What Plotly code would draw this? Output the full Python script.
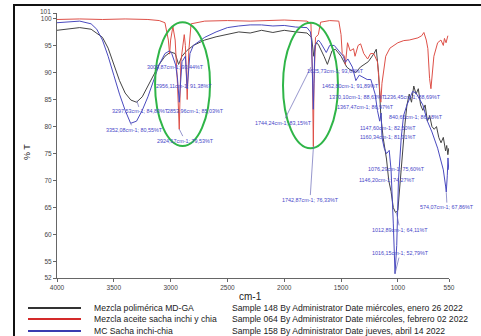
import plotly.graph_objects as go

# ---------------- data ----------------
series_names = ["Mezcla polimérica MD-GA", "Mezcla aceite sacha inchi y chia", "MC Sacha inchi-chia"]
sample_info = ["Sample 148 By Administrator Date miércoles, enero 26 2022",
               "Sample 064 By Administrator Date miércoles, febrero 02 2022",
               "Sample 158 By Administrator Date jueves, abril 14 2022"]

black_wn = [4000, 3900, 3800, 3700, 3600, 3550, 3500, 3450, 3400, 3350, 3300, 3250, 3200, 3150, 3100,
            3050, 3000, 2960, 2930, 2900, 2860, 2800, 2700, 2600, 2500, 2400, 2300, 2200, 2100, 2000,
            1900, 1800, 1760, 1740, 1720, 1700, 1650, 1620, 1580, 1550, 1500, 1450, 1420, 1370, 1330,
            1300, 1260, 1210, 1190, 1170, 1150, 1130, 1100, 1080, 1060, 1040, 1020, 1000, 980, 960,
            940, 920, 900, 880, 860, 840, 820, 800, 780, 760, 740, 720, 700, 680, 660, 640, 620, 600,
            580, 570, 560, 552]
black_t = [97.8, 98.0, 98.3, 98.0, 96.5, 94.5, 91.5, 88.5, 86.2, 84.9, 84.5, 85.5, 87.5, 89.5, 91.5,
           93.0, 93.8, 93.5, 91.5, 93.0, 94.0, 95.0, 96.0, 96.6, 97.0, 97.5, 97.3, 97.8, 97.4, 97.8,
           97.5, 97.3, 96.5, 93.0, 95.5, 95.2, 93.0, 91.5, 94.0, 94.3, 93.0, 91.0, 90.5, 90.0, 91.0,
           91.5, 92.0, 93.5, 94.3, 90.0, 82.0, 78.0, 74.0, 70.0, 68.0, 65.0, 64.1, 64.5, 70.0, 76.0,
           80.0, 84.0, 86.0, 84.5, 87.5, 86.0, 87.0, 84.0, 83.0, 84.0, 81.0, 82.0, 80.0, 79.5, 80.0,
           78.0, 77.0, 78.0, 75.5, 76.5, 74.8, 76.0]

red_wn = [4000, 3800, 3600, 3400, 3200, 3100, 3050, 3020, 3009, 3000, 2980, 2960, 2940, 2924, 2910,
          2880, 2870, 2854, 2840, 2820, 2700, 2500, 2300, 2000, 1800, 1765, 1752, 1744, 1738, 1725,
          1700, 1680, 1600, 1520, 1500, 1490, 1470, 1462, 1443, 1420, 1390, 1377, 1350, 1328, 1300,
          1266, 1240, 1213, 1180, 1160, 1150, 1140, 1107, 1070, 1036, 1000, 948, 900, 824, 790, 771,
          750, 736, 721, 709, 695, 683, 650, 621, 600, 590, 576, 570, 560]
red_t = [99.8, 99.9, 99.8, 99.9, 99.8, 99.6, 99.2, 96.0, 93.4, 96.0, 98.5, 96.0, 88.0, 79.5, 92.0,
         97.0, 95.0, 85.0, 94.0, 99.0, 99.5, 99.6, 99.5, 99.7, 99.5, 99.0, 90.0, 76.3, 88.0, 96.5,
         97.0, 99.3, 99.6, 99.5, 97.0, 93.5, 93.0, 91.5, 95.5, 94.0, 94.4, 93.0, 95.0, 95.3, 93.5,
         92.5, 93.5, 93.5, 92.0, 86.0, 84.5, 88.0, 93.0, 94.5, 95.0, 95.5, 95.9, 96.0, 96.4, 96.8, 97.4,
         96.0, 94.4, 88.9, 87.0, 91.0, 93.0, 95.5, 96.0, 95.0, 96.3, 95.5, 96.2, 96.8]

blue_wn = [4000, 3900, 3800, 3700, 3650, 3600, 3550, 3500, 3450, 3400, 3352, 3300, 3250, 3200, 3150,
           3100, 3050, 3010, 2990, 2956, 2940, 2924, 2900, 2870, 2854, 2830, 2800, 2700, 2600, 2500,
           2400, 2300, 2200, 2100, 2000, 1900, 1800, 1770, 1760, 1744, 1730, 1700, 1680, 1650, 1630,
           1600, 1560, 1520, 1480, 1462, 1440, 1400, 1370, 1340, 1300, 1270, 1238, 1200, 1180, 1160,
           1147, 1140, 1120, 1100, 1076, 1060, 1040, 1025, 1010, 995, 970, 950, 920, 900, 870, 840,
           810, 780, 740, 700, 650, 600, 580, 574, 565, 559, 552]
blue_t = [99.2, 99.3, 99.5, 99.0, 98.0, 96.0, 93.0, 89.5, 86.0, 83.0, 80.6, 81.0, 83.0, 85.5, 88.5,
          91.5, 93.5, 94.0, 93.5, 91.4, 89.0, 84.5, 92.0, 93.0, 87.0, 93.5, 95.0, 96.5, 97.5, 98.3,
          98.6, 98.8, 98.8, 98.6, 98.7, 98.4, 98.3, 97.5, 96.0, 83.2, 95.0, 96.0, 95.5, 94.5, 93.7,
          95.0, 95.0, 94.0, 93.0, 91.9, 92.5, 91.0, 88.5, 89.5, 89.0, 88.7, 88.7, 86.0, 83.0, 81.0,
          82.5, 78.0, 76.0, 75.0, 75.6, 72.0, 62.0, 52.8, 58.0, 70.0, 78.0, 82.0, 84.0, 85.0, 86.5, 86.2,
          85.0, 84.0, 81.0, 79.0, 76.0, 72.0, 69.0, 67.9, 71.0, 74.2, 72.0]

x_ticks = [4000, 3500, 3000, 2500, 2000, 1500, 1000, 550]
y_ticks = [52, 55, 60, 65, 70, 75, 80, 85, 90, 95, 100, 101]

# peak labels: text, label position (wn, %T), leader target (wn, %T) or None
peak_text = ["3009,87cm-1; 93,44%T", "2956,11cm-1; 91,38%T", "3297,53cm-1; 84,80%T",
             "2853,96cm-1; 85,03%T", "3352,08cm-1; 80,55%T", "2924,17cm-1; 79,53%T",
             "1744,24cm-1; 83,15%T", "1625,73cm-1; 93,69%T", "1462,80cm-1; 91,89%T",
             "1370,10cm-1; 88,63%T", "1236,45cm-1; 88,69%T", "1367,47cm-1; 86,97%T",
             "721,13cm-1; 88,90%T", "840,65cm-1; 86,18%T", "1147,60cm-1; 82,50%T",
             "1160,34cm-1; 81,01%T", "1076,29cm-1; 75,60%T", "1146,20cm-1; 74,27%T",
             "559,86cm-1; 74,23%T", "1742,87cm-1; 76,33%T", "574,07cm-1; 67,86%T",
             "1012,89cm-1; 64,11%T", "1016,15cm-1; 52,79%T"]
label_wn = [2961, 2882, 3268, 2780, 3322, 2873, 2011, 1553, 1421, 1359, 875, 1289, 541, 840,
            1087, 1087, 1016, 1096, 524, 1773, 567, 981, 981]
label_t = [91.0, 87.5, 82.8, 82.8, 79.4, 77.4, 80.7, 90.2, 87.5, 85.5, 85.5, 83.6, 83.6, 81.7,
           79.8, 78.1, 72.2, 70.1, 70.1, 66.5, 65.1, 60.9, 56.6]
leader_wn = [None, None, 3297.53, None, 3352.08, 2924.17, 1765, None, None, None, None, None,
             None, None, None, None, None, None, None, 1742.87, 574.07, 1012.89, 1025]
leader_t = [None, None, 84.8, None, 80.55, 79.53, 91.0, None, None, None, None, None,
            None, None, None, None, None, None, None, 76.33, 67.86, 64.11, 52.79]

# ---------------- figure ----------------
L, R, T, B = 57, 32, 13, 58
W, H = 481, 336
PW, PH = W - L - R, H - T - B


def px(xp):
    return (xp - L) / PW


def py(yp):
    return (H - B - yp) / PH


colors = ["#444444", "#de5048", "#4a4abf"]
legend_colors = ["#333333", "#d42a2a", "#3a3ab0"]
fig = go.Figure()
for name, xs, ys, c in zip(series_names, [black_wn, red_wn, blue_wn], [black_t, red_t, blue_t], colors):
    fig.add_trace(go.Scatter(x=xs, y=ys, mode="lines", name=name,
                             line=dict(color=c, width=1), showlegend=False, hoverinfo="skip"))

lab_col = "#4646c8"
ann = []
for txt, lx, ly, tx, ty in zip(peak_text, label_wn, label_t, leader_wn, leader_t):
    a = dict(text=txt, x=lx, y=ly, xref="x", yref="y", showarrow=False,
             font=dict(family="Liberation Sans, Arial", size=5.4, color=lab_col))
    if tx is not None:
        a.update(x=tx, y=ty, ax=lx, ay=ly, axref="x", ayref="y", showarrow=True,
                 arrowhead=0, arrowwidth=0.7, arrowcolor="#6a6ab8", standoff=0, startstandoff=0)
    ann.append(a)

tick_font = dict(family="Liberation Sans, Arial", size=6.5, color="#444")
# the top "101" tick label is nudged upward so it does not collide with "100"
y_ticktext = [str(v) if v != 101 else "" for v in y_ticks]
ann.append(dict(text=str(y_ticks[-1]), x=0, y=y_ticks[-1], xref="paper", yref="y", xanchor="right",
                yanchor="middle", xshift=-4, yshift=2, showarrow=False, font=tick_font))

# axis titles
ann.append(dict(text="cm-1", x=px(250), y=py(296), xref="paper", yref="paper", showarrow=False,
                xanchor="center", yanchor="middle",
                font=dict(family="Liberation Sans, Arial", size=10, color="#222")))
ann.append(dict(text="% T", x=px(27), y=py(152), xref="paper", yref="paper", showarrow=False,
                xanchor="center", yanchor="middle",
                textangle=-90, font=dict(family="Liberation Sans, Arial", size=9, color="#222")))

shapes = []
# custom legend
rows_y = [308, 319, 331]
for name, info, c, ry in zip(series_names, sample_info, legend_colors, rows_y):
    shapes.append(dict(type="line", xref="paper", yref="paper", x0=px(28), x1=px(81), y0=py(ry), y1=py(ry),
                       line=dict(color=c, width=2)))
    ann.append(dict(text=name, x=px(92), y=py(ry), xref="paper", yref="paper", xanchor="left",
                    yanchor="middle", showarrow=False,
                    font=dict(family="Liberation Sans, Arial", size=8.6, color="#222")))
    ann.append(dict(text=info, x=px(230), y=py(ry), xref="paper", yref="paper", xanchor="left",
                    yanchor="middle", showarrow=False,
                    font=dict(family="Liberation Sans, Arial", size=8.6, color="#222")))

# outer frame
shapes.append(dict(type="rect", xref="paper", yref="paper", x0=px(14), x1=px(495), y0=py(345), y1=py(5),
                   line=dict(color="#111", width=2), layer="above"))
# green highlight ellipses
shapes.append(dict(type="circle", xref="x", yref="y", x0=3137, x1=2653, y0=76.4, y1=99.3,
                   line=dict(color="#2fb548", width=2)))
shapes.append(dict(type="circle", xref="x", yref="y", x0=2011, x1=1527, y0=76.0, y1=99.2,
                   line=dict(color="#2fb548", width=2)))

axis_common = dict(showgrid=False, zeroline=False, showline=True, linecolor="#666", linewidth=1,
                   ticks="outside", ticklen=3, tickcolor="#666", tickfont=tick_font)

fig.update_layout(
    width=W, height=H, margin=dict(l=L, r=R, t=T, b=B),
    paper_bgcolor="white", plot_bgcolor="white",
    xaxis=dict(range=[4000, 550], tickvals=x_ticks, ticktext=[str(v) for v in x_ticks], **axis_common),
    yaxis=dict(range=[52, 101], tickvals=y_ticks, ticktext=y_ticktext, **axis_common),
    annotations=ann, shapes=shapes, hovermode=False,
)

fig.write_html("out.html", config={"displayModeBar": False})
